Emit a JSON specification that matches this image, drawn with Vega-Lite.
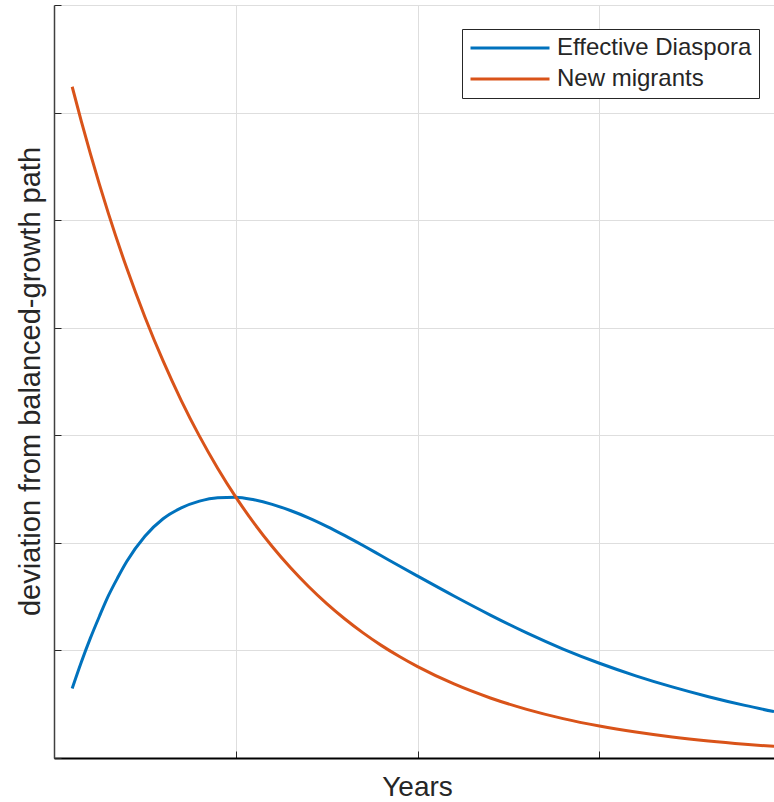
{
  "$schema": "https://vega.github.io/schema/vega-lite/v6.json",
  "width": 720,
  "height": 753,
  "autosize": {"type": "none"},
  "padding": {"left": 54, "top": 5, "right": 0, "bottom": 44},
  "background": "white",
  "config": {"view": {"stroke": null}, "font": "Liberation Sans"},
  "data": {
    "values": [
      {"series": "Effective Diaspora", "t": 0.1, "v": 0.646},
      {"series": "Effective Diaspora", "t": 0.15, "v": 0.89},
      {"series": "Effective Diaspora", "t": 0.2, "v": 1.114},
      {"series": "Effective Diaspora", "t": 0.25, "v": 1.318},
      {"series": "Effective Diaspora", "t": 0.3, "v": 1.511},
      {"series": "Effective Diaspora", "t": 0.35, "v": 1.675},
      {"series": "Effective Diaspora", "t": 0.4, "v": 1.826},
      {"series": "Effective Diaspora", "t": 0.5, "v": 2.061},
      {"series": "Effective Diaspora", "t": 0.6, "v": 2.224},
      {"series": "Effective Diaspora", "t": 0.7, "v": 2.325},
      {"series": "Effective Diaspora", "t": 0.8, "v": 2.388},
      {"series": "Effective Diaspora", "t": 0.9, "v": 2.42},
      {"series": "Effective Diaspora", "t": 1.0, "v": 2.425},
      {"series": "Effective Diaspora", "t": 1.1, "v": 2.4},
      {"series": "Effective Diaspora", "t": 1.2, "v": 2.358},
      {"series": "Effective Diaspora", "t": 1.3, "v": 2.301},
      {"series": "Effective Diaspora", "t": 1.4, "v": 2.233},
      {"series": "Effective Diaspora", "t": 1.5, "v": 2.154},
      {"series": "Effective Diaspora", "t": 1.6, "v": 2.067},
      {"series": "Effective Diaspora", "t": 1.7, "v": 1.975},
      {"series": "Effective Diaspora", "t": 1.8, "v": 1.88},
      {"series": "Effective Diaspora", "t": 1.9, "v": 1.785},
      {"series": "Effective Diaspora", "t": 2.0, "v": 1.691},
      {"series": "Effective Diaspora", "t": 2.2, "v": 1.506},
      {"series": "Effective Diaspora", "t": 2.4, "v": 1.329},
      {"series": "Effective Diaspora", "t": 2.6, "v": 1.163},
      {"series": "Effective Diaspora", "t": 2.8, "v": 1.013},
      {"series": "Effective Diaspora", "t": 3.0, "v": 0.881},
      {"series": "Effective Diaspora", "t": 3.2, "v": 0.764},
      {"series": "Effective Diaspora", "t": 3.4, "v": 0.661},
      {"series": "Effective Diaspora", "t": 3.6, "v": 0.57},
      {"series": "Effective Diaspora", "t": 3.8, "v": 0.489},
      {"series": "Effective Diaspora", "t": 3.96, "v": 0.431},
      {"series": "New migrants", "t": 0.1, "v": 6.24},
      {"series": "New migrants", "t": 0.15, "v": 5.921},
      {"series": "New migrants", "t": 0.2, "v": 5.618},
      {"series": "New migrants", "t": 0.3, "v": 5.058},
      {"series": "New migrants", "t": 0.4, "v": 4.554},
      {"series": "New migrants", "t": 0.5, "v": 4.1},
      {"series": "New migrants", "t": 0.6, "v": 3.691},
      {"series": "New migrants", "t": 0.7, "v": 3.323},
      {"series": "New migrants", "t": 0.8, "v": 2.992},
      {"series": "New migrants", "t": 0.9, "v": 2.694},
      {"series": "New migrants", "t": 1.0, "v": 2.425},
      {"series": "New migrants", "t": 1.1, "v": 2.183},
      {"series": "New migrants", "t": 1.2, "v": 1.966},
      {"series": "New migrants", "t": 1.3, "v": 1.77},
      {"series": "New migrants", "t": 1.4, "v": 1.594},
      {"series": "New migrants", "t": 1.5, "v": 1.435},
      {"series": "New migrants", "t": 1.6, "v": 1.292},
      {"series": "New migrants", "t": 1.7, "v": 1.163},
      {"series": "New migrants", "t": 1.8, "v": 1.047},
      {"series": "New migrants", "t": 1.9, "v": 0.943},
      {"series": "New migrants", "t": 2.0, "v": 0.849},
      {"series": "New migrants", "t": 2.2, "v": 0.688},
      {"series": "New migrants", "t": 2.4, "v": 0.558},
      {"series": "New migrants", "t": 2.6, "v": 0.452},
      {"series": "New migrants", "t": 2.8, "v": 0.366},
      {"series": "New migrants", "t": 3.0, "v": 0.297},
      {"series": "New migrants", "t": 3.2, "v": 0.241},
      {"series": "New migrants", "t": 3.4, "v": 0.195},
      {"series": "New migrants", "t": 3.6, "v": 0.158},
      {"series": "New migrants", "t": 3.8, "v": 0.128},
      {"series": "New migrants", "t": 3.96, "v": 0.108}
    ]
  },
  "mark": {"type": "line", "strokeWidth": 3, "interpolate": "monotone"},
  "encoding": {
    "x": {
      "field": "t",
      "type": "quantitative",
      "scale": {"domain": [0, 3.96], "nice": false, "zero": false},
      "axis": {
        "values": [0, 1, 2, 3],
        "labels": false,
        "grid": true,
        "gridColor": "#dedede",
        "gridWidth": 1,
        "tickSize": -7,
        "tickColor": "#262626",
        "tickWidth": 1,
        "domainColor": "#000000",
        "domainWidth": 2,
        "title": "Years",
        "titleFont": "Liberation Sans",
        "titleFontSize": 28,
        "titleFontWeight": "normal",
        "titleColor": "#262626",
        "titleX": 363,
        "titleY": 37,
        "titleAlign": "center",
        "titleBaseline": "alphabetic"
      }
    },
    "y": {
      "field": "v",
      "type": "quantitative",
      "scale": {"domain": [0, 7], "nice": false, "zero": false},
      "axis": {
        "values": [0, 1, 2, 3, 4, 5, 6, 7],
        "labels": false,
        "grid": true,
        "gridColor": "#dedede",
        "gridWidth": 1,
        "tickSize": -7,
        "tickColor": "#262626",
        "tickWidth": 1,
        "domainColor": "#404040",
        "domainWidth": 1.5,
        "title": "deviation from balanced-growth path",
        "titleFont": "Liberation Sans",
        "titleFontSize": 29,
        "titleFontWeight": "normal",
        "titleColor": "#262626",
        "titleAngle": 270,
        "titleX": -24,
        "titleY": 376,
        "titleAlign": "center",
        "titleBaseline": "middle"
      }
    },
    "color": {
      "field": "series",
      "type": "nominal",
      "scale": {"domain": ["Effective Diaspora", "New migrants"], "range": ["#0072BD", "#D95319"]},
      "legend": {
        "title": null,
        "orient": "none",
        "legendX": 408,
        "legendY": 24,
        "direction": "vertical",
        "symbolType": "stroke",
        "symbolSize": 6241,
        "symbolStrokeWidth": 3,
        "clipHeight": 24,
        "labelFont": "Liberation Sans",
        "labelFontSize": 24,
        "labelColor": "#262626",
        "labelOffset": 6,
        "labelLimit": 400,
        "padding": 7,
        "rowPadding": 7,
        "strokeColor": "#262626",
        "fillColor": "white"
      }
    }
  }
}
